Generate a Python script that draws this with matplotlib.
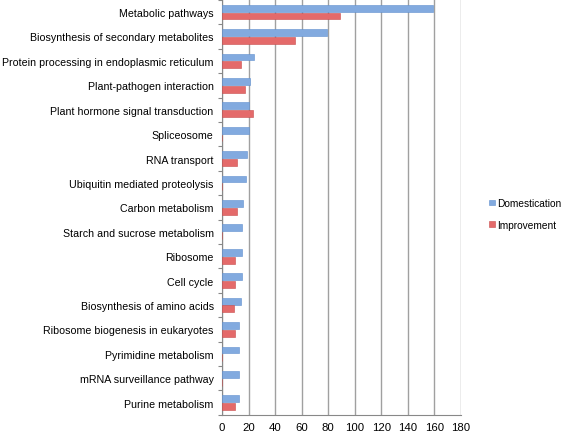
import numpy as np
import matplotlib
matplotlib.use("Agg")
import matplotlib.pyplot as plt

# =================================
# DATA
# =================================

categories = [
    "Metabolic pathways",
    "Biosynthesis of secondary metabolites",
    "Protein processing in endoplasmic reticulum",
    "Plant-pathogen interaction",
    "Plant hormone signal transduction",
    "Spliceosome",
    "RNA transport",
    "Ubiquitin mediated proteolysis",
    "Carbon metabolism",
    "Starch and sucrose metabolism",
    "Ribosome",
    "Cell cycle",
    "Biosynthesis of amino acids",
    "Ribosome biogenesis in eukaryotes",
    "Pyrimidine metabolism",
    "mRNA surveillance pathway",
    "Purine metabolism",
]

domestication = [159, 79, 24, 21, 20, 20, 19, 18, 16, 15, 15, 15, 14, 13, 13, 13, 13]
improvement = [89, 55, 14, 17, 23, 0, 11, 0, 11, 0, 10, 10, 9, 10, 0, 0, 10]

x_ticks = [0, 20, 40, 60, 80, 100, 120, 140, 160, 180]

# =================================
# PLOT
# =================================

plt.rcParams["font.family"] = ["Liberation Sans", "DejaVu Sans"]

fig = plt.figure(figsize=(5.67, 4.35), dpi=100)
ax = fig.add_axes([0.3915, 0.044, 0.4215, 0.954])

y = np.arange(len(categories))
h = 0.28
off = 0.16

ax.barh(y - off, domestication, height=h, color="#82aadf",
        edgecolor="#5f8fcf", linewidth=0.4, label="Domestication", zorder=3)
ax.barh(y + off, improvement, height=h, color="#e46a6a",
        edgecolor="#c84c4c", linewidth=0.4, label="Improvement", zorder=3)

# =================================
# STYLE
# =================================

ax.set_xlim(0, 180)
ax.set_ylim(len(categories) - 0.5, -0.5)
ax.set_xticks(x_ticks)
ax.set_yticks(y)
ax.set_yticklabels(categories)
ax.set_yticks(np.arange(len(categories) + 1) - 0.5, minor=True)

ax.tick_params(axis="y", which="major", length=0, labelsize=7.7, pad=6)
ax.tick_params(axis="y", which="minor", length=3, color="#888888", width=0.8)
ax.tick_params(axis="x", length=0, labelsize=8.2, pad=5)

ax.grid(axis="x", color="#a0a0a0", linewidth=1.0, zorder=0)

for side in ["top", "right"]:
    ax.spines[side].set_visible(False)
ax.spines["left"].set_color("#888888")
ax.spines["bottom"].set_color("#888888")

ax.legend(loc="center left", bbox_to_anchor=(1.08, 0.484), frameon=False,
          fontsize=7.3, handlelength=0.6, handleheight=0.4,
          handletextpad=0.2, labelspacing=1.1)

plt.savefig("out.png", dpi=100)
